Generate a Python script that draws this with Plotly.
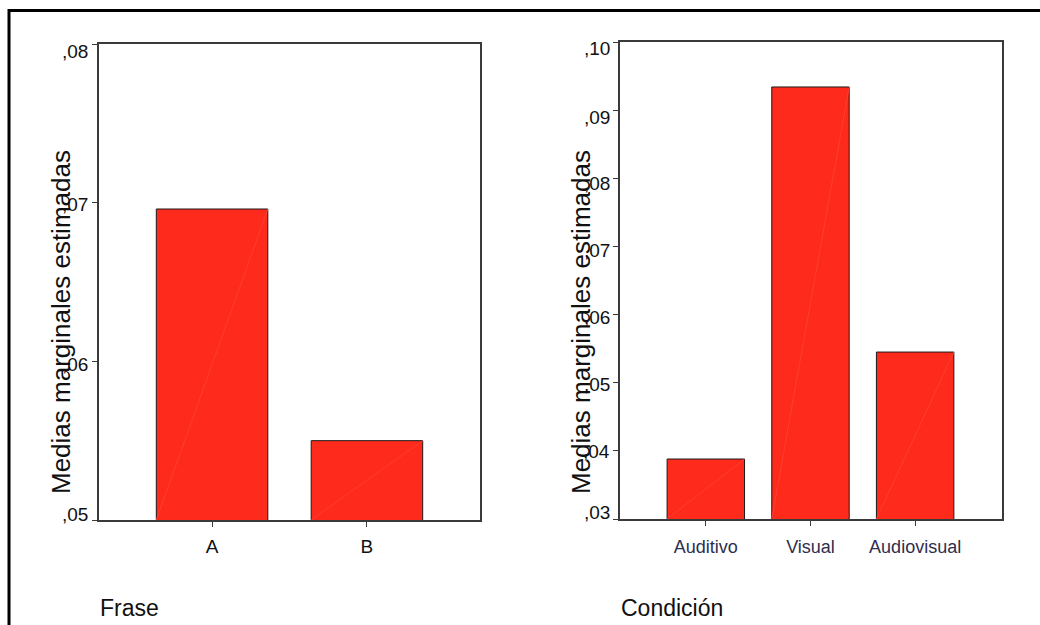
import plotly.graph_objects as go

# Estimated marginal means by factor
frase_cats = ["A", "B"]
frase_vals = [0.0696, 0.0550]

cond_cats = ["Auditivo", "Visual", "Audiovisual"]
cond_vals = [0.0388, 0.0934, 0.0545]

left_ticks = [0.05, 0.06, 0.07, 0.08]
left_ticktext = [",05", ",06", ",07", ",08"]
right_ticks = [0.03, 0.04, 0.05, 0.06, 0.07, 0.08, 0.09, 0.10]
right_ticktext = [",03", ",04", ",05", ",06", ",07", ",08", ",09", ",10"]

W, H = 1040, 625
FONT = "Liberation Sans, Arial, sans-serif"
BAR = "#fe2a1b"
BAR_W_LEFT, BAR_W_RIGHT = 0.72, 0.74


def px(x):
    return x / W


def py(y):
    return 1 - y / H


fig = go.Figure()
fig.add_trace(go.Bar(x=frase_cats, y=frase_vals, width=BAR_W_LEFT, xaxis="x", yaxis="y",
                     marker=dict(color=BAR, line=dict(color="#1a1a1a", width=1))))
fig.add_trace(go.Bar(x=cond_cats, y=cond_vals, width=BAR_W_RIGHT, xaxis="x2", yaxis="y2",
                     marker=dict(color=BAR, line=dict(color="#1a1a1a", width=1))))

axis_common = dict(showline=True, mirror=True, linecolor="#3a3a3a", linewidth=1.5,
                   ticks="outside", ticklen=5, tickcolor="#3a3a3a", showgrid=False,
                   zeroline=False, fixedrange=True)

fig.update_layout(
    width=W, height=H,
    margin=dict(l=0, r=0, t=0, b=0),
    paper_bgcolor="white", plot_bgcolor="white",
    showlegend=False,
    font=dict(family=FONT, color="#111111"),
    xaxis=dict(domain=[px(99), px(480)], anchor="y", type="category",
               range=[-0.73, 1.73], ticklabelstandoff=3,
               tickfont=dict(size=19, color="#111111"), **axis_common),
    yaxis=dict(domain=[py(520), py(44)], anchor="x", range=[0.05, 0.08],
               tickvals=left_ticks, showticklabels=False, **axis_common),
    xaxis2=dict(domain=[px(620), px(1002)], anchor="y2", type="category",
                range=[-0.82, 2.83], ticklabelstandoff=6,
                tickfont=dict(size=18, color="#2e2e4f"), **axis_common),
    yaxis2=dict(domain=[py(519), py(42)], anchor="x2", range=[0.03, 0.10],
                tickvals=right_ticks, showticklabels=False, **axis_common),
)

# Faint diagonal sheen across each bar (bottom-left to top-right)
for cats, vals, w, xr, yr, base in ((frase_cats, frase_vals, BAR_W_LEFT, "x", "y", 0.05),
                                    (cond_cats, cond_vals, BAR_W_RIGHT, "x2", "y2", 0.03)):
    for i, v in enumerate(vals):
        fig.add_shape(type="line", xref=xr, yref=yr,
                      x0=i - w / 2, y0=base, x1=i + w / 2, y1=v,
                      line=dict(color="#ff3e30", width=1))

# Value labels on the y axes, kept inside the axis span at the ends
left_shift = [6, -3, -2, -7]
right_shift = [7, -1, -2, -3, -4, -5, -7, -6]
for ticks, texts, shifts, yr, xright in ((left_ticks, left_ticktext, left_shift, "y", 90),
                                         (right_ticks, right_ticktext, right_shift, "y2", 612)):
    for t, s, sh in zip(ticks, texts, shifts):
        fig.add_annotation(text=s, xref="paper", yref=yr, x=px(xright), y=t,
                           xanchor="right", yanchor="middle", yshift=sh,
                           showarrow=False,
                           font=dict(size=19, family=FONT, color="#111111"))

# Axis titles
for xc in (61, 581):
    fig.add_annotation(text="Medias marginales estimadas", xref="paper", yref="paper",
                       x=px(xc), y=py(322), xanchor="center", yanchor="middle",
                       textangle=-90, showarrow=False,
                       font=dict(size=26, family=FONT, color="#111111"))

fig.add_annotation(text="Frase", xref="paper", yref="paper", x=px(98), y=py(608),
                   xanchor="left", yanchor="middle", showarrow=False,
                   font=dict(size=23, family=FONT, color="#111111"))
fig.add_annotation(text="Condición", xref="paper", yref="paper", x=px(619), y=py(608),
                   xanchor="left", yanchor="middle", showarrow=False,
                   font=dict(size=23, family=FONT, color="#111111"))

# Page frame: top and left rules
fig.add_shape(type="line", xref="paper", yref="paper", x0=px(8), x1=1.0,
              y0=py(10.5), y1=py(10.5), line=dict(color="black", width=3))
fig.add_shape(type="line", xref="paper", yref="paper", x0=px(9), x1=px(9),
              y0=py(9), y1=0, line=dict(color="black", width=3))

fig.write_html("out.html")
